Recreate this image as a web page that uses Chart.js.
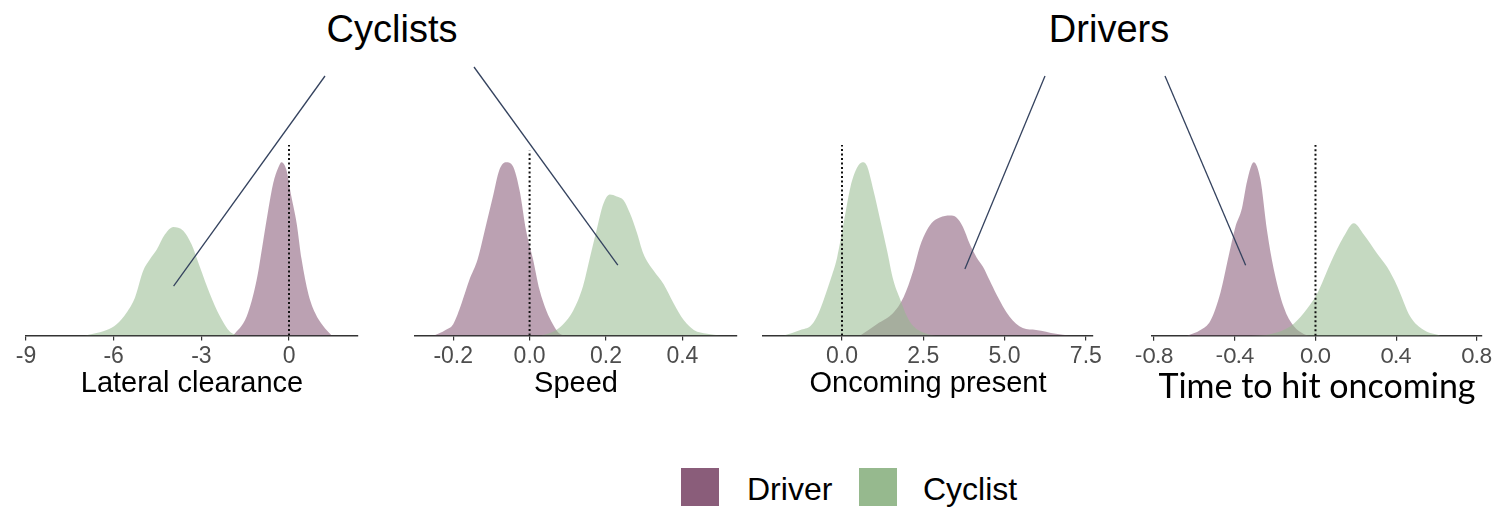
<!DOCTYPE html>
<html>
<head>
<meta charset="utf-8">
<script src="https://cdn.jsdelivr.net/npm/chart.js@4.4.1/dist/chart.umd.min.js"></script>
<style>
  body { margin: 0; width: 1501px; height: 508px; background: #fff; position: relative; overflow: hidden;
         font-family: "Liberation Sans", Arial, sans-serif; }
  .panel { position: absolute; }
  .head { position: absolute; top: 10px; font-size: 38px; line-height: 38px; color: #000;
          transform: translateX(-50%); white-space: nowrap; }
  .key { position: absolute; top: 468px; width: 38px; height: 38px; }
  .keytext { position: absolute; top: 473px; font-size: 32px; line-height: 32px; color: #000; white-space: nowrap; }
  #links { position: absolute; left: 0; top: 0; pointer-events: none; }
</style>
</head>
<body>

<div class="head" style="left:392px">Cyclists</div>
<div class="head" style="left:1109px">Drivers</div>

<div class="key" style="left:681px; background:#8a5d7a"></div>
<div class="keytext" style="left:747px">Driver</div>
<div class="key" style="left:859px; background:#96b98e"></div>
<div class="keytext" style="left:923px">Cyclist</div>

<canvas id="links" width="1501" height="508"></canvas>

<script>
// ---- data (density, arbitrary units) ----
var titles = ['Lateral clearance', 'Speed', 'Oncoming present', 'Time to hit oncoming'];
var groups = ['Driver', 'Cyclist'];

var lateralTicks = [-9, -6, -3, 0];
var lateralDriverX = [-1.91, -1.45, -1.11, -0.88, -0.71, -0.54, -0.37, -0.26, -0.09, 0.08, 0.26, 0.43, 0.66, 0.89, 1.17, 1.46];
var lateralDriverY = [0, 0.10, 0.29, 0.50, 0.66, 0.80, 0.88, 0.91, 0.87, 0.73, 0.59, 0.40, 0.22, 0.12, 0.05, 0];
var lateralCyclistX = [-7.0, -6.70, -6.24, -5.90, -5.56, -5.27, -4.99, -4.76, -4.53, -4.25, -3.96, -3.62, -3.34, -3.05, -2.71, -2.36, -2.02, -1.68];
var lateralCyclistY = [0, 0.01, 0.03, 0.06, 0.12, 0.20, 0.34, 0.40, 0.45, 0.53, 0.57, 0.55, 0.48, 0.36, 0.22, 0.10, 0.02, 0];

var speedTicks = [-0.2, 0, 0.2, 0.4];
var speedDriverX = [-0.25, -0.22, -0.20, -0.178, -0.158, -0.136, -0.114, -0.096, -0.079, -0.061, -0.044, -0.026, -0.009, 0.009, 0.026, 0.044, 0.061, 0.079, 0.10];
var speedDriverY = [0, 0.03, 0.06, 0.17, 0.29, 0.40, 0.58, 0.73, 0.87, 0.91, 0.89, 0.76, 0.55, 0.40, 0.24, 0.13, 0.06, 0.01, 0];
var speedCyclistX = [0.03, 0.061, 0.088, 0.114, 0.14, 0.158, 0.175, 0.193, 0.21, 0.228, 0.246, 0.263, 0.281, 0.298, 0.325, 0.351, 0.377, 0.404, 0.43, 0.465, 0.50];
var speedCyclistY = [0, 0.02, 0.06, 0.13, 0.26, 0.41, 0.55, 0.69, 0.74, 0.73, 0.71, 0.64, 0.54, 0.43, 0.34, 0.27, 0.17, 0.08, 0.03, 0.01, 0];

var oncomingTicks = [0, 2.5, 5, 7.5];
var oncomingDriverX = [0.56, 1.07, 1.58, 1.89, 2.19, 2.40, 2.60, 2.81, 3.01, 3.32, 3.52, 3.72, 3.93, 4.14, 4.34, 4.54, 4.74, 5.15, 5.56, 5.97, 6.58, 7.0];
var oncomingDriverY = [0, 0.06, 0.12, 0.20, 0.34, 0.47, 0.55, 0.60, 0.62, 0.63, 0.62, 0.57, 0.48, 0.41, 0.36, 0.29, 0.22, 0.10, 0.04, 0.03, 0.01, 0];
var oncomingCyclistX = [-1.79, -1.28, -0.97, -0.77, -0.56, -0.36, -0.15, 0.05, 0.26, 0.46, 0.63, 0.77, 0.97, 1.17, 1.38, 1.58, 1.79, 2.0, 2.19, 2.6, 2.9];
var oncomingCyclistY = [0, 0.03, 0.05, 0.10, 0.19, 0.29, 0.41, 0.59, 0.78, 0.88, 0.91, 0.89, 0.76, 0.61, 0.45, 0.29, 0.19, 0.10, 0.05, 0.01, 0];

var timeTicks = [-0.8, -0.4, 0, 0.4, 0.8];
var timeDriverX = [-0.636, -0.57, -0.52, -0.47, -0.43, -0.397, -0.364, -0.339, -0.306, -0.273, -0.24, -0.207, -0.157, -0.107, -0.058, -0.025];
var timeDriverY = [0, 0.03, 0.08, 0.23, 0.42, 0.57, 0.67, 0.81, 0.91, 0.82, 0.55, 0.35, 0.15, 0.05, 0.01, 0];
var timeCyclistX = [-0.32, -0.22, -0.124, -0.058, 0.008, 0.074, 0.14, 0.19, 0.24, 0.306, 0.355, 0.405, 0.47, 0.537, 0.62];
var timeCyclistY = [0, 0.01, 0.05, 0.12, 0.22, 0.38, 0.52, 0.59, 0.53, 0.43, 0.36, 0.26, 0.10, 0.03, 0];

// height of the dotted zero line in each panel
var zeroLineTop = [1.0, 0.97, 1.0, 1.0];

// ---- layout / style ----
var driverColor = 'rgba(138, 93, 122, 0.58)';
var cyclistColor = 'rgba(150, 185, 142, 0.55)';
var plotTop = 145, plotHeight = 191;

var panels = [
    {left: 26,   right: 358,  min: -9,    max: 2.36,  ticks: lateralTicks,  dec: 0, font: 'Liberation Sans', tickSize: 23, titleSize: 29, titlePad: -6,
     driver: [lateralDriverX, lateralDriverY], cyclist: [lateralCyclistX, lateralCyclistY]},
    {left: 415,  right: 737,  min: -0.30, max: 0.543, ticks: speedTicks,    dec: 1, font: 'Liberation Sans', tickSize: 23, titleSize: 29, titlePad: -6,
     driver: [speedDriverX, speedDriverY], cyclist: [speedCyclistX, speedCyclistY]},
    {left: 763,  right: 1093, min: -2.43, max: 7.72,  ticks: oncomingTicks, dec: 1, font: 'Liberation Sans', tickSize: 23, titleSize: 29, titlePad: -6,
     driver: [oncomingDriverX, oncomingDriverY], cyclist: [oncomingCyclistX, oncomingCyclistY]},
    {left: 1152, right: 1482, min: -0.81, max: 0.825, ticks: timeTicks,     dec: 1, font: 'Lato', tickSize: 22, titleSize: 34, titlePad: -5,
     driver: [timeDriverX, timeDriverY], cyclist: [timeCyclistX, timeCyclistY]}
];

// callout lines: from a point near the headings to a point inside a panel (data coords)
var callouts = [
    {panel: 0, x: -3.95, y: 0.26, from: [325, 76]},
    {panel: 1, x: 0.231, y: 0.37, from: [474, 67]},
    {panel: 2, x: 3.78,  y: 0.35, from: [1045, 76]},
    {panel: 3, x: -0.346, y: 0.37, from: [1165, 76]}
];

function points(xs, ys) {
    var out = [];
    for (var i = 0; i < xs.length; i++) {
        out.push({x: xs[i], y: ys[i]});
    }
    return out;
}

function build(box, i, w, h) {
    var p = panels[i];
    box.innerHTML = '';
    var cv = document.createElement('canvas');
    cv.width = w;
    cv.height = h;
    cv.style.width = w + 'px';
    cv.style.height = h + 'px';
    box.appendChild(cv);

    return new Chart(cv.getContext('2d'), {
        type: 'line',
        data: {
            datasets: [{
                label: 'zero',
                data: [{x: 0, y: 0}, {x: 0, y: zeroLineTop[i]}],
                borderColor: '#111',
                borderWidth: 2,
                borderDash: [2, 2.5],
                pointRadius: 0,
                fill: false,
                tension: 0
            }, {
                label: groups[1],
                data: points(p.cyclist[0], p.cyclist[1]),
                backgroundColor: cyclistColor,
                borderWidth: 0,
                pointRadius: 0,
                fill: 'origin',
                cubicInterpolationMode: 'monotone'
            }, {
                label: groups[0],
                data: points(p.driver[0], p.driver[1]),
                backgroundColor: driverColor,
                borderWidth: 0,
                pointRadius: 0,
                fill: 'origin',
                cubicInterpolationMode: 'monotone'
            }]
        },
        options: {
            responsive: false,
            animation: false,
            events: [],
            layout: {padding: {left: 40, right: 40, top: 10, bottom: 10}},
            plugins: {legend: {display: false}, tooltip: {enabled: false}},
            scales: {
                x: {
                    type: 'linear',
                    min: p.min,
                    max: p.max,
                    afterBuildTicks: function (scale) {
                        scale.ticks = p.ticks.map(function (v) { return {value: v}; });
                    },
                    ticks: {
                        color: '#4d4d4d',
                        padding: 2,
                        maxRotation: 0,
                        font: {family: p.font, size: p.tickSize},
                        callback: function (v) { return Number(v).toFixed(p.dec); }
                    },
                    grid: {drawOnChartArea: false, drawTicks: true, tickLength: 5, color: '#333', lineWidth: 1.2},
                    border: {display: true, color: '#333', width: 1.6},
                    title: {
                        display: true,
                        text: titles[i],
                        color: '#000',
                        font: {family: p.font, size: p.titleSize},
                        padding: {top: p.titlePad, bottom: 0}
                    }
                },
                y: {
                    display: false,
                    min: 0,
                    max: 1
                }
            }
        }
    });
}

var charts = [];
for (var i = 0; i < panels.length; i++) {
    var p = panels[i];
    var box = document.createElement('div');
    box.className = 'panel';
    document.body.insertBefore(box, document.getElementById('links'));
    var w = (p.right - p.left) + 80;
    var h = 290;
    var chart = build(box, i, w, h);
    var extra = plotHeight - (chart.chartArea.bottom - chart.chartArea.top);
    chart.destroy();
    chart = build(box, i, w, h + extra);
    var dx = p.left - chart.chartArea.left;
    var dy = plotTop - chart.chartArea.top;
    box.style.left = dx + 'px';
    box.style.top = dy + 'px';
    charts.push({chart: chart, dx: dx, dy: dy});
}

// callout lines on top of the panels
var ctx = document.getElementById('links').getContext('2d');
ctx.strokeStyle = '#34425e';
ctx.lineWidth = 1.3;
callouts.forEach(function (c) {
    var ch = charts[c.panel];
    var tx = ch.dx + ch.chart.scales.x.getPixelForValue(c.x);
    var ty = ch.dy + ch.chart.scales.y.getPixelForValue(c.y);
    ctx.beginPath();
    ctx.moveTo(c.from[0], c.from[1]);
    ctx.lineTo(tx, ty);
    ctx.stroke();
});
</script>
</body>
</html>
